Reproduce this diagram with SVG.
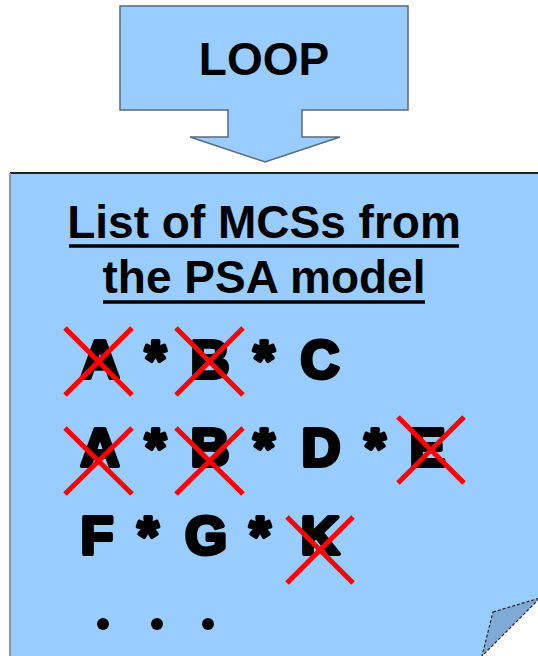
<svg xmlns="http://www.w3.org/2000/svg" width="538" height="656" viewBox="0 0 538 656">
<style>
.shape{fill:#99ccff;}
.t{font-family:"Liberation Sans",Arial,sans-serif;font-weight:bold;fill:#000;}
.big{font-size:54px;stroke:#000;stroke-width:4px;stroke-linejoin:round;text-anchor:middle;}
.ttl{font-size:46px;text-anchor:middle;}
.x{stroke:#ff0000;stroke-width:5;stroke-linecap:butt;fill:none;}
.ul{stroke:#000;stroke-width:3.5;}
</style>
<rect width="538" height="656" fill="#ffffff"/>
<g id="loop">
<polygon class="shape" points="120,6 408,6 408,110 302,110 302,137 340,137 265,162 190,137 228,137 228,110 120,110" stroke="#5a6b7a" stroke-width="1.5"/>
<text class="t" x="264" y="75" font-size="46" text-anchor="middle">LOOP</text>
</g>
<g id="list">
<path class="shape" d="M10,173 L560,173 L560,578 L480,658 L10,658 Z"/>
<line x1="10" y1="173" x2="538" y2="173" stroke="#222" stroke-width="2"/>
<line x1="10" y1="173" x2="10" y2="656" stroke="#8899aa" stroke-width="2"/>
<polygon points="493,612 540,598 482,656" fill="#80aad6" stroke="#222" stroke-width="1.2" stroke-dasharray="3,2"/>
<text class="t ttl" x="264" y="238">List of MCSs from</text>
<line class="ul" x1="69" y1="246" x2="459" y2="246"/>
<text class="t ttl" x="264" y="293">the PSA model</text>
<line class="ul" x1="103" y1="302" x2="425" y2="302"/>
<g class="t big">
<text x="100" y="378">A</text><text x="155.5" y="378">*</text><text x="210" y="378">B</text><text x="264" y="378">*</text><text x="320" y="378">C</text>
<text x="100" y="466">A</text><text x="155.5" y="466">*</text><text x="210" y="466">B</text><text x="264" y="466">*</text><text x="321" y="466">D</text><text x="375" y="466">*</text><text x="427.5" y="466">E</text>
<text x="97" y="554">F</text><text x="148" y="554">*</text><text x="206" y="554">G</text><text x="260" y="554">*</text><text x="320" y="554">K</text>
</g>
<g>
<circle cx="103" cy="624" r="6"/>
<circle cx="157" cy="624" r="6"/>
<circle cx="208" cy="624" r="6"/>
</g>
<g class="x">
<path d="M65,328 L132,395 M132,328 L65,395"/>
<path d="M176,328 L243,395 M243,328 L176,395"/>
<path d="M65,428 L132,494 M132,428 L65,494"/>
<path d="M176,428 L243,494 M243,428 L176,494"/>
<path d="M398,417 L464,483 M464,417 L398,483"/>
<path d="M287,517 L353,583 M353,517 L287,583"/>
</g>
</g>
<g id="connectors"/>
</svg>
